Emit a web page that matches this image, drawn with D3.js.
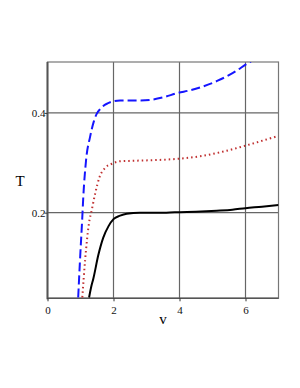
<!DOCTYPE html>
<html><head><meta charset="utf-8">
<script src="https://cdn.jsdelivr.net/npm/d3@7"></script>
<style>body{margin:0;background:#fff}svg{display:block}</style>
</head><body>
<svg id="c" width="300" height="388"></svg>
<script>
const xTicks = [0, 2, 4, 6];
const yTicks = [0.2, 0.4];
const xLabel = "v";
const yLabel = "T";
const blueV = [0.93,0.985,1.05,1.085,1.17,1.29,1.40,1.49,1.60,1.69,1.82,1.97,2.2,2.5,2.8,3.1,3.5,3.95,4.3,4.62,5.14,5.62,6.08,6.4];
const blueT = [0.03,0.105,0.185,0.232,0.306,0.352,0.382,0.398,0.408,0.414,0.419,0.423,0.425,0.425,0.425,0.426,0.431,0.440,0.445,0.451,0.464,0.480,0.500,0.512];
const redV = [1.055,1.14,1.26,1.34,1.44,1.58,1.75,1.95,2.2,2.6,3.1,3.5,3.95,4.62,5.3,5.93,6.5,7];
const redT = [0.03,0.105,0.18,0.205,0.237,0.272,0.290,0.298,0.303,0.304,0.305,0.306,0.308,0.313,0.322,0.333,0.344,0.354];
const blackV = [1.26,1.32,1.39,1.54,1.69,1.85,2.0,2.2,2.4,2.8,3.2,3.6,4.0,4.5,5.13,5.6,6.0,6.5,7];
const blackT = [0.03,0.05,0.068,0.115,0.150,0.173,0.187,0.194,0.198,0.200,0.200,0.200,0.201,0.202,0.204,0.206,0.209,0.212,0.2155];

const svg = d3.select("#c");
const x = d3.scaleLinear().domain([0, 7]).range([47.5, 278.5]);
const y = d3.scaleLinear().domain([0.0283, 0.502]).range([298.3, 62]);
const font = "'Liberation Serif','DejaVu Serif',serif";

svg.append("defs").append("clipPath").attr("id","clip")
  .append("rect").attr("x",x(0)).attr("y",y(0.502)).attr("width",x(7)-x(0)).attr("height",y(0.0283)-y(0.502));

const g = svg.append("g");
// grid
g.selectAll(".gx").data(xTicks.filter(d=>d>0)).join("line")
  .attr("x1",d=>x(d)).attr("x2",d=>x(d)).attr("y1",y(0.502)).attr("y2",y(0.0283))
  .attr("stroke","#666").attr("stroke-width",1.2);
g.selectAll(".gy").data(yTicks).join("line")
  .attr("x1",x(0)).attr("x2",x(7)).attr("y1",d=>y(d)).attr("y2",d=>y(d))
  .attr("stroke","#666").attr("stroke-width",1.2);
// frame
g.append("rect").attr("x",x(0)).attr("y",y(0.502)).attr("width",x(7)-x(0)).attr("height",y(0.0283)-y(0.502))
  .attr("fill","none").attr("stroke","#777").attr("stroke-width",1.2);
g.append("line").attr("x1",x(0)).attr("x2",x(0)).attr("y1",y(0.502)).attr("y2",y(0.0283)+1)
  .attr("stroke","#555").attr("stroke-width",2);
g.append("line").attr("x1",x(0)).attr("x2",x(7)).attr("y1",y(0.0283)).attr("y2",y(0.0283))
  .attr("stroke","#555").attr("stroke-width",1.5);

// axes
const xa = d3.axisBottom(x).tickValues(xTicks).tickSize(3).tickFormat(d3.format("d"));
const ax = svg.append("g").attr("transform",`translate(0,${y(0.0283)})`).call(xa);
ax.select(".domain").remove();
ax.selectAll("line").attr("stroke","#333");
ax.selectAll("text").attr("font-family",font).attr("font-size",11).attr("fill","#111").attr("dy","0.9em");
const ya = d3.axisLeft(y).tickValues(yTicks).tickSize(3).tickFormat(d3.format(".1f"));
const ay = svg.append("g").attr("transform",`translate(${x(0)},0)`).call(ya);
ay.select(".domain").remove();
ay.selectAll("line").attr("stroke","#333");
ay.selectAll("text").attr("font-family",font).attr("font-size",11).attr("fill","#111").attr("x",-2);

svg.append("text").attr("x",163).attr("y",324).attr("text-anchor","middle")
  .attr("font-family",font).attr("font-size",15).text(xLabel);
svg.append("text").attr("x",20).attr("y",186).attr("text-anchor","middle")
  .attr("font-family",font).attr("font-size",15).text(yLabel);

const line = d3.line().x(d=>x(d[0])).y(d=>y(d[1])).curve(d3.curveMonotoneX);
const pc = svg.append("g").attr("clip-path","url(#clip)");
pc.append("path").attr("d",line(d3.zip(blackV,blackT))).attr("fill","none").attr("stroke","#000").attr("stroke-width",2);
pc.append("path").attr("d",line(d3.zip(redV,redT))).attr("fill","none").attr("stroke","#c03030").attr("stroke-width",2)
  .attr("stroke-dasharray","1.5,3");
pc.append("path").attr("d",line(d3.zip(blueV,blueT))).attr("fill","none").attr("stroke","#1515ff").attr("stroke-width",2)
  .attr("stroke-dasharray","9,4");
</script>
</body></html>
